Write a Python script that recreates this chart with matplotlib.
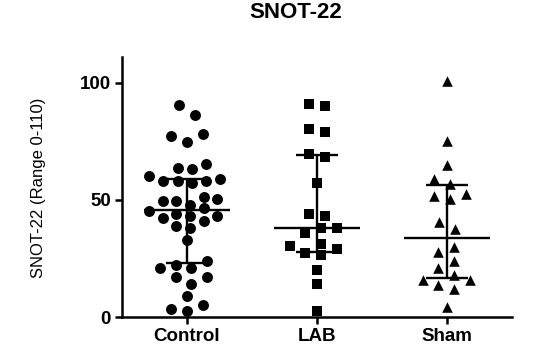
import numpy as np
import matplotlib
matplotlib.use('Agg')
import matplotlib.pyplot as plt

plt.rcParams['font.family'] = ['Liberation Sans', 'DejaVu Sans']

# values
groups = ['Control', 'LAB', 'Sham']
control = [90.3, 86.4, 78.3, 77.2, 74.6, 65.5, 63.3, 63.7, 60.4, 58.0,
           58.0, 57.3, 58.0, 59.0, 51.2, 49.5, 47.8, 49.5, 50.2, 45.2,
           46.4, 43.1, 42.1, 41.0, 43.1, 44.1, 38.9, 38.2, 32.9, 24.0,
           22.1, 21.1, 21.1, 16.9, 16.9, 14.0, 9.1, 5.1, 2.7, 3.4]
lab = [90.2, 91.1, 80.3, 79.1, 68.2, 69.4, 57.0, 43.1, 44.1, 38.2,
       38.2, 35.7, 31.3, 29.2, 30.4, 26.4, 27.5, 20.1, 14.0, 2.7]
sham = [100.6, 75.3, 64.7, 56.9, 59.1, 51.6, 50.5, 52.6, 40.7, 37.7,
        29.9, 27.8, 24.0, 20.9, 15.9, 13.8, 15.9, 17.9, 11.9, 4.1]
medians = [45.5, 38.2, 33.9]
q1 = [23.0, 27.8, 16.6]
q3 = [59.0, 69.1, 56.2]

markers = ['o', 's', '^']
sizes = [62, 54, 58]


def swarm(yvals, step=15.7, hgt=10.5, maxw=38):
    # prism-like scatter: points sit on a half-step lattice, pixel units
    h = step / 2
    xs = np.zeros(len(yvals))
    placed = []
    order = np.argsort(yvals)
    for i in order:
        y = yvals[i]
        near = [(xj, yj) for xj, yj in placed if abs(y - yj) < hgt]
        best = None
        for k in range(0, 20):
            for c in ([0.0] if k == 0 else [-k * h, k * h]):
                if all(abs(c - xj) >= step - 1e-6 for xj, yj in near):
                    best = c
                    break
            if best is not None:
                break
        xs[i] = best
        placed.append((best, y))
    # centre each cluster of touching rows, squeeze it if too wide
    ys = yvals[order]
    cuts = np.where(np.diff(ys) >= hgt)[0] + 1
    for grp in np.split(order, cuts):
        xs[grp] -= xs[grp].mean()
        m = np.abs(xs[grp]).max()
        if m > maxw:
            xs[grp] *= maxw / m
    return xs


fig = plt.figure(figsize=(5.58, 3.52), dpi=100)
ax = fig.add_axes([122 / 558, 1 - 317 / 352, 390 / 558, 260 / 352])
ax.set_xlim(-0.5, 2.5)
ax.set_ylim(0, 111)

# pixel scales for the layout of the dots
p0 = ax.transData.transform((0, 0))
p1 = ax.transData.transform((1, 1))
xpx = p1[0] - p0[0]
ypx = p1[1] - p0[1]

for i, vals in enumerate([control, lab, sham]):
    v = np.array(vals)
    off = swarm(v * ypx) / xpx
    ax.scatter(i + off, v, marker=markers[i], s=sizes[i], color='black',
               linewidths=0, zorder=3, clip_on=False)

x = np.arange(3)
ax.hlines(medians, x - 0.33, x + 0.33, color='black', lw=1.7, zorder=4)
ax.hlines(q1, x - 0.16, x + 0.16, color='black', lw=1.7, zorder=4)
ax.hlines(q3, x - 0.16, x + 0.16, color='black', lw=1.7, zorder=4)
ax.vlines(x, q1, q3, color='black', lw=1.7, zorder=4)

for s in ['top', 'right']:
    ax.spines[s].set_visible(False)
for s in ['left', 'bottom']:
    ax.spines[s].set_linewidth(1.8)

ax.set_yticks([0, 50, 100])
ax.set_xticks(x)
ax.set_xticklabels(groups)
ax.tick_params(direction='out', length=5, width=1.8, labelsize=13.5, pad=3)
for lab_ in ax.get_xticklabels() + ax.get_yticklabels():
    lab_.set_fontweight('bold')

fig.text(39 / 558, 1 - 188 / 352, 'SNOT-22 (Range 0-110)', rotation=90,
         ha='center', va='center', fontsize=12)
fig.text(296 / 558, 1 - 12 / 352, 'SNOT-22', ha='center', va='center',
         fontsize=16, fontweight='bold')

fig.savefig('out.png', dpi=100)
